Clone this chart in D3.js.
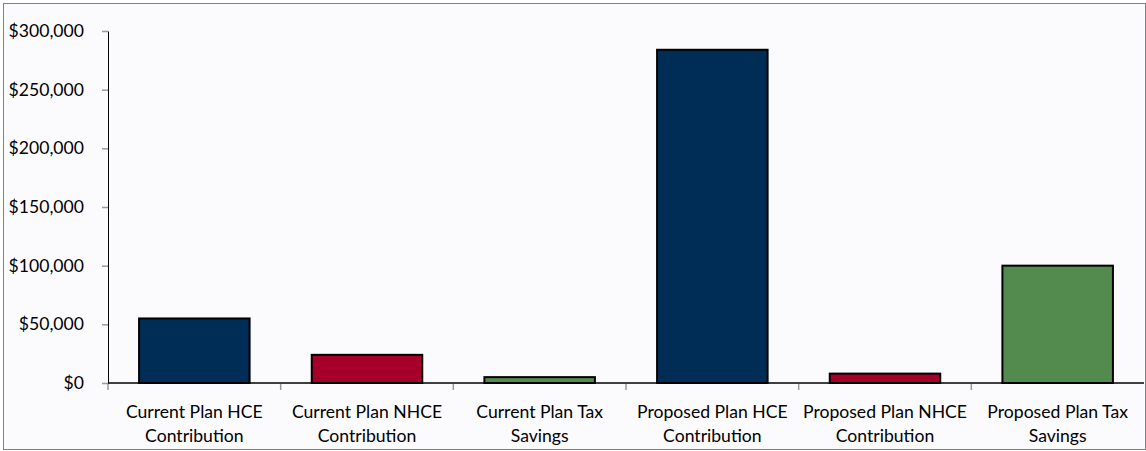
<!DOCTYPE html>
<html><head><meta charset="utf-8">
<script src="https://cdn.jsdelivr.net/npm/d3@7"></script>
<style>body{margin:0;background:#fff;} svg{display:block;}</style>
</head><body>
<svg id="c" width="1146" height="451"></svg>
<script>
const categories = [
  ["Current Plan HCE", "Contribution"],
  ["Current Plan NHCE", "Contribution"],
  ["Current Plan Tax", "Savings"],
  ["Proposed Plan HCE", "Contribution"],
  ["Proposed Plan NHCE", "Contribution"],
  ["Proposed Plan Tax", "Savings"]
];
const values = [55000, 24000, 5000, 284000, 8000, 100000];
const colors = ["#002D56", "#A6002A", "#538B4F", "#002D56", "#A6002A", "#538B4F"];
const yTicks = [0, 50000, 100000, 150000, 200000, 250000, 300000];

const svg = d3.select("#c");
const W = 1146, H = 451;
const m = {left: 108, right: 2, top: 31, bottom: 68};
svg.append("rect").attr("x", 3.5).attr("y", 3.5).attr("width", W - 4).attr("height", H - 5)
  .attr("fill", "#FBFBFD").attr("stroke", "#808080").attr("stroke-width", 1);

const keys = categories.map((d, i) => i);
const x = d3.scaleBand().domain(keys).range([m.left, W - m.right]).paddingInner(0.36).paddingOuter(0.18);
const y = d3.scaleLinear().domain([0, 300000]).range([H - m.bottom, m.top]);
const font = "Lato, 'Open Sans', sans-serif";

// y axis
const ya = svg.append("g").attr("transform", `translate(${m.left},0)`)
  .call(d3.axisLeft(y).tickValues(yTicks).tickSizeInner(6).tickSizeOuter(0).tickPadding(18)
    .tickFormat(d => "$" + d3.format(",")(d)));
ya.select(".domain").attr("stroke", "#000");
ya.selectAll(".tick line").attr("stroke", "#999").attr("stroke-width", 1.5);
ya.selectAll("text").attr("font-family", font).attr("font-size", 17.6).attr("fill", "#000");

// bars
svg.append("g").selectAll("rect").data(values).join("rect")
  .attr("x", (d, i) => x(i)).attr("width", x.bandwidth())
  .attr("y", d => y(d)).attr("height", d => y(0) - y(d))
  .attr("fill", (d, i) => colors[i]).attr("stroke", "#000").attr("stroke-width", 2);

// x axis
const xb = d3.scaleLinear().domain([0, 6]).range([m.left, W - m.right]);
const xa = svg.append("g").attr("transform", `translate(0,${y(0)})`);
xa.append("line").attr("x1", m.left).attr("x2", W - m.right).attr("stroke", "#000").attr("stroke-width", 1.5);
xa.selectAll("line.t").data(d3.range(0, 6)).join("line").attr("class", "t")
  .attr("x1", d => xb(d)).attr("x2", d => xb(d)).attr("y1", 1).attr("y2", 7)
  .attr("stroke", "#999").attr("stroke-width", 1.5);
const lab = xa.selectAll("text").data(categories).join("text")
  .attr("font-family", font).attr("font-size", 17.6).attr("fill", "#000").attr("text-anchor", "middle");
lab.each(function(d, i) {
  const t = d3.select(this);
  d.forEach((s, j) => t.append("tspan").attr("x", x(i) + x.bandwidth() / 2).attr("y", 35 + j * 24).text(s));
});
</script>
</body></html>
